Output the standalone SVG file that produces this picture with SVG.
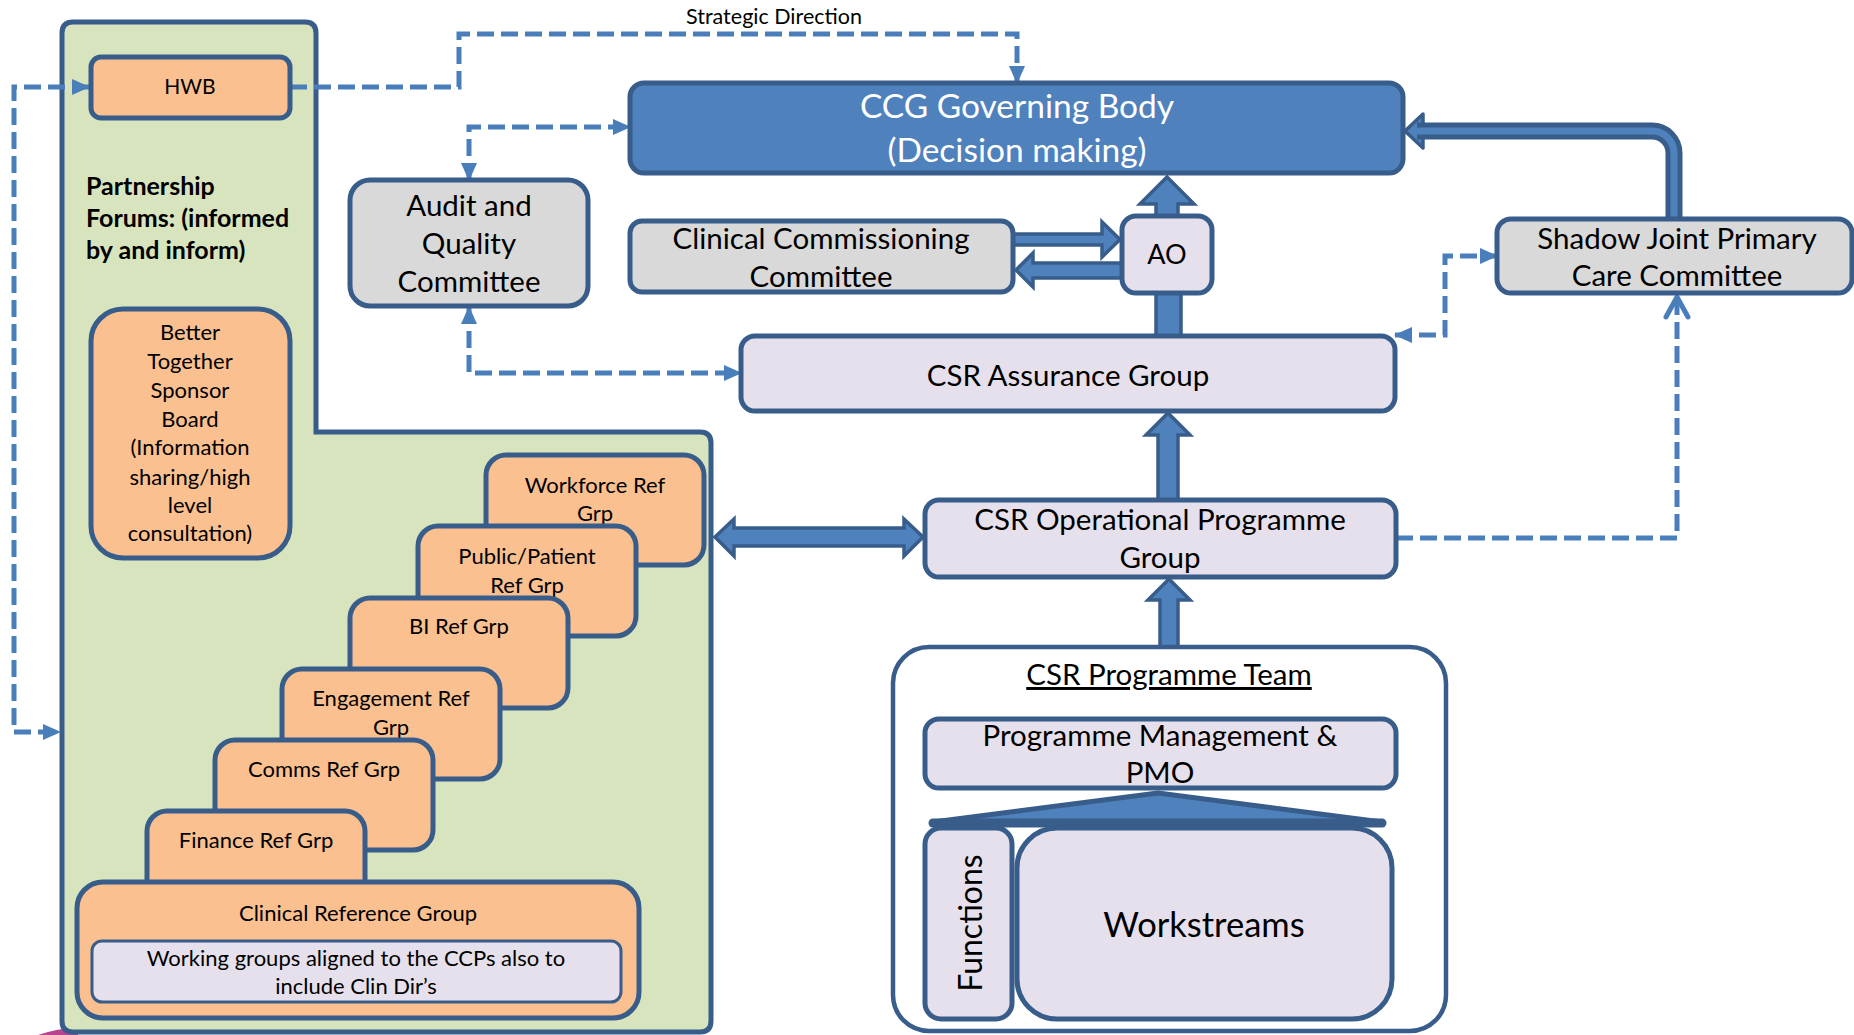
<svg xmlns="http://www.w3.org/2000/svg" width="1854" height="1035" viewBox="0 0 1854 1035">
<defs>
<style>
.box{stroke:#385D8A;stroke-width:5}
.org{fill:#FAC090}
.lav{fill:#E6E0EC}
.gry{fill:#D9D9D9}
.grn{fill:#D7E4BD}
.dash{fill:none;stroke:#4A7EBB;stroke-width:5;stroke-dasharray:17 7}
.blk{fill:#4F81BD;stroke:#385D8A;stroke-width:3.5}
text{font-family:Lato,"Liberation Sans",sans-serif;fill:#000;text-anchor:middle}
.t20{font-size:22px}
.t27{font-size:29.5px}
.t28{font-size:29.5px}
.pf{font-size:25px;font-weight:bold;text-anchor:start}
.wht{fill:#FFFFFF;font-size:33.5px}
</style>
<marker id="ah" markerWidth="18" markerHeight="18" refX="17" refY="9" orient="auto-start-reverse" markerUnits="userSpaceOnUse">
<path d="M0,1 L18,9 L0,17 z" fill="#4A7EBB"/>
</marker>
</defs>
<rect width="1854" height="1035" fill="#FFFFFF"/>
<path d="M38,1035 Q55,1029 78,1027 L78,1035 Z" fill="#B8438F"/>
<g id="partnership-forums">
<path class="box grn" d="M73,22 H305 Q316,22 316,33 V432 H700 Q711,432 711,443 V1021 Q711,1032 700,1032 H73 Q62,1032 62,1021 V33 Q62,22 73,22 Z"/>
<text class="pf" x="86" y="195">Partnership</text>
<text class="pf" x="86" y="227">Forums: (informed</text>
<text class="pf" x="86" y="259">by and inform)</text>
</g>
<g id="connectors">
<path class="dash" d="M290,87 H459 V34 H1017 V83" marker-end="url(#ah)"/>
<path class="dash" d="M89,87 H14 V732 H60" marker-start="url(#ah)" marker-end="url(#ah)"/>
<path class="dash" d="M469,180 V127 H630" marker-start="url(#ah)" marker-end="url(#ah)"/>
<path class="dash" d="M469,307 V373 H741" marker-start="url(#ah)" marker-end="url(#ah)"/>
<path class="dash" d="M1395,335 H1445 V256 H1497" marker-start="url(#ah)" marker-end="url(#ah)"/>
<path class="dash" d="M1396,538 H1677 V300"/>
<polyline points="1666,317 1677,297 1688,317" fill="none" stroke="#4A7EBB" stroke-width="5" stroke-linecap="round" stroke-linejoin="round"/>
<polygon class="blk" points="1156,217 1156,204 1140,204 1167,177 1194,204 1178,204 1178,217"/>
<polygon class="blk" points="1013,234 1102,234 1102,222 1120,239.5 1102,257 1102,245 1013,245"/>
<polygon class="blk" points="1122,263 1033,263 1033,253 1016,270 1033,287 1033,278 1122,278"/>
<rect class="blk" x="1156" y="292" width="25" height="44"/>
<polygon class="blk" points="1158,500 1158,435 1146,435 1168,413 1190,435 1178,435 1178,500"/>
<polygon class="blk" points="1160,647 1160,600 1148,600 1169,579 1190,600 1178,600 1178,647"/>
<polygon class="blk" points="715,537 734,519 734,528 904,528 904,519 923,537 904,556 904,546 734,546 734,556"/>
<polygon class="blk" points="1423,114 1405,131 1423,148" stroke-linejoin="round"/>
<path d="M1674,219 V153 A22,22 0 0 0 1652,131 H1417" fill="none" stroke="#385D8A" stroke-width="17"/>
<path d="M1674,219 V153 A22,22 0 0 0 1652,131 H1412" fill="none" stroke="#4F81BD" stroke-width="7"/>
<text x="774" y="24" style="font-size:21.5px">Strategic Direction</text>
</g>
<g id="hwb">
<rect class="box org" x="91" y="57" width="199" height="61" rx="10"/>
<text x="190" y="94" style="font-size:21px">HWB</text>
</g>
<g id="better-together">
<rect class="box org" x="91" y="309" width="199" height="249" rx="32"/>
<text class="t20" x="190" y="340">Better</text>
<text class="t20" x="190" y="369">Together</text>
<text class="t20" x="190" y="398">Sponsor</text>
<text class="t20" x="190" y="427">Board</text>
<text class="t20" x="190" y="455">(Information</text>
<text class="t20" x="190" y="485">sharing/high</text>
<text class="t20" x="190" y="513">level</text>
<text class="t20" x="190" y="541">consultation)</text>
</g>
<g id="audit">
<rect class="box gry" x="350" y="180" width="238" height="126" rx="20"/>
<text class="t27" x="469" y="216">Audit and</text>
<text class="t27" x="469" y="254">Quality</text>
<text class="t27" x="469" y="292">Committee</text>
</g>
<g id="ccg">
<rect class="box" fill="#4F81BD" x="630" y="83" width="773" height="90" rx="14"/>
<text class="wht" x="1017" y="118">CCG Governing Body</text>
<text class="wht" x="1017" y="162">(Decision making)</text>
</g>
<g id="ccc">
<rect class="box gry" x="630" y="221" width="383" height="71" rx="12"/>
<text class="t28" x="821" y="249">Clinical Commissioning</text>
<text class="t28" x="821" y="287">Committee</text>
</g>
<g id="ao">
<rect class="box lav" x="1122" y="216" width="90" height="77" rx="14"/>
<text x="1167" y="264" style="font-size:27px">AO</text>
</g>
<g id="assurance">
<rect class="box lav" x="741" y="336" width="654" height="75" rx="14"/>
<text class="t28" x="1068" y="386">CSR Assurance Group</text>
</g>
<g id="shadow">
<rect class="box gry" x="1497" y="219" width="355" height="74" rx="14"/>
<text class="t28" x="1677" y="249">Shadow Joint Primary</text>
<text class="t28" x="1677" y="286">Care Committee</text>
</g>
<g id="operational">
<rect class="box lav" x="925" y="500" width="471" height="77" rx="14"/>
<text class="t28" x="1160" y="530">CSR Operational Programme</text>
<text class="t28" x="1160" y="568">Group</text>
</g>
<g id="programme-team">
<rect fill="#FFFFFF" stroke="#385D8A" stroke-width="4.5" x="893" y="647" width="553" height="384" rx="36"/>
<text class="t28" x="1169" y="685" text-decoration="underline">CSR Programme Team</text>
</g>
<g id="pmo">
<rect class="box lav" x="925" y="719" width="471" height="69" rx="14"/>
<text class="t28" x="1160" y="746">Programme Management &amp;</text>
<text class="t28" x="1160" y="783">PMO</text>
</g>
<g id="wedge">
<polygon points="933,822 1158,793 1382,822" fill="#4F81BD" stroke="#385D8A" stroke-width="5" stroke-linejoin="round"/>
<line x1="933" y1="823" x2="1382" y2="823" stroke="#385D8A" stroke-width="9" stroke-linecap="round"/>
</g>
<g id="functions">
<rect class="box lav" x="925" y="828" width="87" height="191" rx="16"/>
<text transform="translate(982,923) rotate(-90)" x="0" y="0" style="font-size:32px">Functions</text>
</g>
<g id="workstreams">
<rect class="box lav" x="1017" y="828" width="375" height="191" rx="40"/>
<text x="1204" y="937" style="font-size:34.5px">Workstreams</text>
</g>
<g id="workforce">
<rect class="box org" x="486" y="455" width="218" height="110" rx="20"/>
<text class="t20" x="595" y="493">Workforce Ref</text>
<text class="t20" x="595" y="521">Grp</text>
</g>
<g id="public-patient">
<rect class="box org" x="418" y="526" width="218" height="110" rx="20"/>
<text class="t20" x="527" y="564">Public/Patient</text>
<text class="t20" x="527" y="593">Ref Grp</text>
</g>
<g id="bi">
<rect class="box org" x="350" y="598" width="218" height="110" rx="20"/>
<text class="t20" x="459" y="634">BI Ref Grp</text>
</g>
<g id="engagement">
<rect class="box org" x="282" y="669" width="218" height="110" rx="20"/>
<text class="t20" x="391" y="706">Engagement Ref</text>
<text class="t20" x="391" y="735">Grp</text>
</g>
<g id="comms">
<rect class="box org" x="215" y="740" width="218" height="110" rx="20"/>
<text class="t20" x="324" y="777">Comms Ref Grp</text>
</g>
<g id="finance">
<rect class="box org" x="147" y="811" width="218" height="110" rx="20"/>
<text class="t20" x="256" y="848">Finance Ref Grp</text>
</g>
<g id="clinical-ref">
<rect class="box org" x="77" y="882" width="562" height="136" rx="26"/>
<text class="t20" x="358" y="921">Clinical Reference Group</text>
<rect class="lav" stroke="#385D8A" stroke-width="3" x="92" y="941" width="529" height="61" rx="10"/>
<text class="t20" x="356" y="966">Working groups aligned to the CCPs also to</text>
<text class="t20" x="356" y="994">include Clin Dir’s</text>
</g>
</svg>
